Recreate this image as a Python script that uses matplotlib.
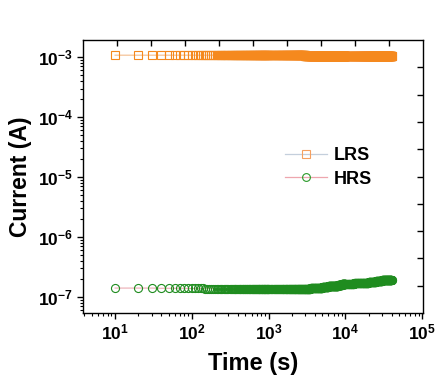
import matplotlib
matplotlib.use("Agg")
import matplotlib.pyplot as plt
import numpy as np
from matplotlib.ticker import LogLocator, NullFormatter

plt.rcParams['font.family'] = ['Liberation Sans', 'DejaVu Sans']
plt.rcParams['font.weight'] = 'bold'
plt.rcParams['mathtext.default'] = 'regular'

# measurement time grid (s): instrument sampling, segments of (start, stop, step)
time_segments = [(10, 1000, 10), (1000, 10000, 20), (10000, 40001, 100)]

# readings per interval of time: (upper time bound in s, value)
# LRS current in mA
lrs_readings = [(700, 1.08), (3000, 1.07), (8000, 1.06), (20000, 1.05), (40001, 1.04)]
# HRS current in units of 1e-7 A
hrs_readings = [(40, 1.41), (90, 1.40), (150, 1.39), (220, 1.38), (300, 1.37),
                (450, 1.36), (700, 1.35), (2000, 1.34), (2800, 1.35), (3500, 1.37),
                (4000, 1.39), (4500, 1.41), (5000, 1.43), (6000, 1.47), (7000, 1.51),
                (8000, 1.55), (9000, 1.59), (10000, 1.62), (13000, 1.66), (16000, 1.70),
                (20000, 1.74), (25000, 1.79), (30000, 1.84), (35000, 1.89), (40001, 1.95)]

series_labels = ["LRS", "HRS"]

t = np.concatenate([np.arange(a, b, s) for a, b, s in time_segments]).astype(float)


def lookup(readings, times):
    out = np.empty(len(times))
    bounds = [r[0] for r in readings]
    vals = [r[1] for r in readings]
    idx = np.searchsorted(bounds, times, side='right')
    idx = np.clip(idx, 0, len(vals) - 1)
    for i, k in enumerate(idx):
        out[i] = vals[k]
    return out


lrs = lookup(lrs_readings, t) * 1e-3
hrs = lookup(hrs_readings, t) * 1e-7

fig = plt.figure(figsize=(4.39, 3.79), dpi=100)
pos = [0.189, 0.174, 0.775, 0.72]
ax = fig.add_axes(pos)

ax.plot(t, lrs, '-', color='#f2b27a', lw=0.7, marker='s', ms=5.4,
        mfc='none', mec='#f5891e', mew=0.8, label=series_labels[0])
ax.plot(t, hrs, '-', color='#e8a0a8', lw=0.7, marker='o', ms=5.8,
        mfc='none', mec='#1f8c1f', mew=0.8, label=series_labels[1])

ax.set_xscale('log')
ax.set_yscale('log')
ax.set_xlim(3.83, 1.03e5)
ax.set_ylim(5.4e-8, 1.92e-3)

ax.xaxis.set_major_locator(LogLocator(base=10, numticks=20))
ax.xaxis.set_minor_locator(LogLocator(base=10, subs=np.arange(2, 10), numticks=20))
ax.yaxis.set_major_locator(LogLocator(base=10, numticks=20))
ax.yaxis.set_minor_locator(LogLocator(base=10, subs=np.arange(2, 10), numticks=20))
ax.xaxis.set_minor_formatter(NullFormatter())
ax.yaxis.set_minor_formatter(NullFormatter())

ax.tick_params(which='major', direction='out', length=4, width=1.0, labelsize=12.5,
               top=False, right=False, pad=3)
ax.tick_params(which='minor', direction='out', length=2.2, width=0.8, top=False, right=False)
for s in ax.spines.values():
    s.set_linewidth(1.0)

ax.set_xlabel('Time (s)', fontsize=17, fontweight='bold', labelpad=7)
ax.set_ylabel('Current (A)', fontsize=16.5, fontweight='bold', labelpad=4)

# mirror axes with plain inward ticks on top and right
ax2 = fig.add_axes(pos, frameon=False)
ax2.set_xlim(0, 10)
ax2.set_ylim(0, 10)
ax2.set_xticks(np.arange(1, 10))
ax2.set_yticks(np.arange(1, 10))
ax2.tick_params(direction='in', length=4, width=1.0, top=True, right=True,
                bottom=False, left=False, labeltop=False, labelright=False,
                labelbottom=False, labelleft=False)
ax2.patch.set_visible(False)

h1 = plt.Line2D([], [], color='#c4cfdc', lw=0.9, marker='s', ms=5.2, mfc='none',
                mec='#f5a060', mew=0.8)
h2 = plt.Line2D([], [], color='#eea6ae', lw=0.9, marker='o', ms=5.6, mfc='none',
                mec='#2a9a2a', mew=0.8)
leg = ax.legend([h1, h2], series_labels, loc='upper left', bbox_to_anchor=(0.595, 0.607),
                frameon=False, fontsize=13, handlelength=2.3, handletextpad=0.35,
                labelspacing=0.35, borderaxespad=0, borderpad=0)
for txt in leg.get_texts():
    txt.set_fontweight('bold')

fig.savefig('out.png', dpi=100)
